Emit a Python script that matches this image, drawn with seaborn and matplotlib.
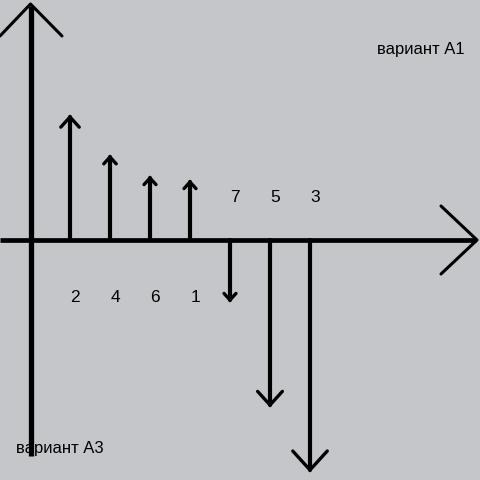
import numpy as np
import pandas as pd
import seaborn as sns
import matplotlib.pyplot as plt

# stems: label and signed length (pixel-like units, axis at 0)
labels = ["2", "4", "6", "1", "7", "5", "3"]
values = [123, 83, 62, 58, -60, -165, -230]
corner_top = "вариант А1"
corner_bottom = "вариант А3"

bg = "#c5c6ca"
sns.set_theme(style="white", rc={"axes.facecolor": bg, "figure.facecolor": bg})
plt.rcParams["font.family"] = ["Liberation Sans", "DejaVu Sans"]

fig = plt.figure(figsize=(4.8, 4.8), dpi=100)
ax = fig.add_axes([0, 0, 1, 1])
ax.set_xlim(-0.75, 11.25)
ax.set_ylim(-240, 240)
ax.set_axis_off()

px = 1 / 40  # one pixel in x data units

# build long-form table: stems and their heads
rows = []
for i, (lab, v) in enumerate(zip(labels, values)):
    x = i + 1
    rows.append(dict(x=x, y=0, unit=f"s{i}", part="stem"))
    rows.append(dict(x=x, y=v, unit=f"s{i}", part="stem"))
    hw = max(6, 0.075 * abs(v))
    hl = hw * 1.1 * np.sign(v)
    rows.append(dict(x=x - hw * px, y=v - hl, unit=f"h{i}", part="head"))
    rows.append(dict(x=x, y=v, unit=f"h{i}", part="head"))
    rows.append(dict(x=x + hw * px, y=v - hl, unit=f"h{i}", part="head"))
df = pd.DataFrame(rows)

sns.lineplot(data=df[df.part == "stem"], x="x", y="y", units="unit",
             estimator=None, sort=False, color="black", lw=3.0, ax=ax)
sns.lineplot(data=df[df.part == "head"], x="x", y="y", units="unit",
             estimator=None, sort=False, color="black", lw=2.4, ax=ax,
             solid_joinstyle="miter")

# main axes with open arrowheads
ax.plot([-0.75, 11.15], [0, 0], color="black", lw=3.4, solid_capstyle="butt")
ax.plot([10.275, 11.175, 10.275], [34, 0, -34], color="black", lw=2.2)
ax.plot([0.0125, 0.0125], [-216, 234], color="black", lw=3.8, solid_capstyle="butt")
ax.plot([-0.75, 0.0125, 0.8], [204, 236, 204], color="black", lw=2.2)

# value labels
for i, (lab, v) in enumerate(zip(labels, values)):
    yy = -58 if v > 0 else 42
    ax.text(i + 1 + 5 * px, yy, lab, ha="center", va="center",
            fontsize=12.5, color="black")

ax.text(8.675, 186, corner_top, ha="left", va="baseline", fontsize=12,
        color="black")
ax.text(-0.35, -213, corner_bottom, ha="left", va="baseline", fontsize=12,
        color="black")

fig.savefig("out.png", dpi=100, facecolor=bg)
